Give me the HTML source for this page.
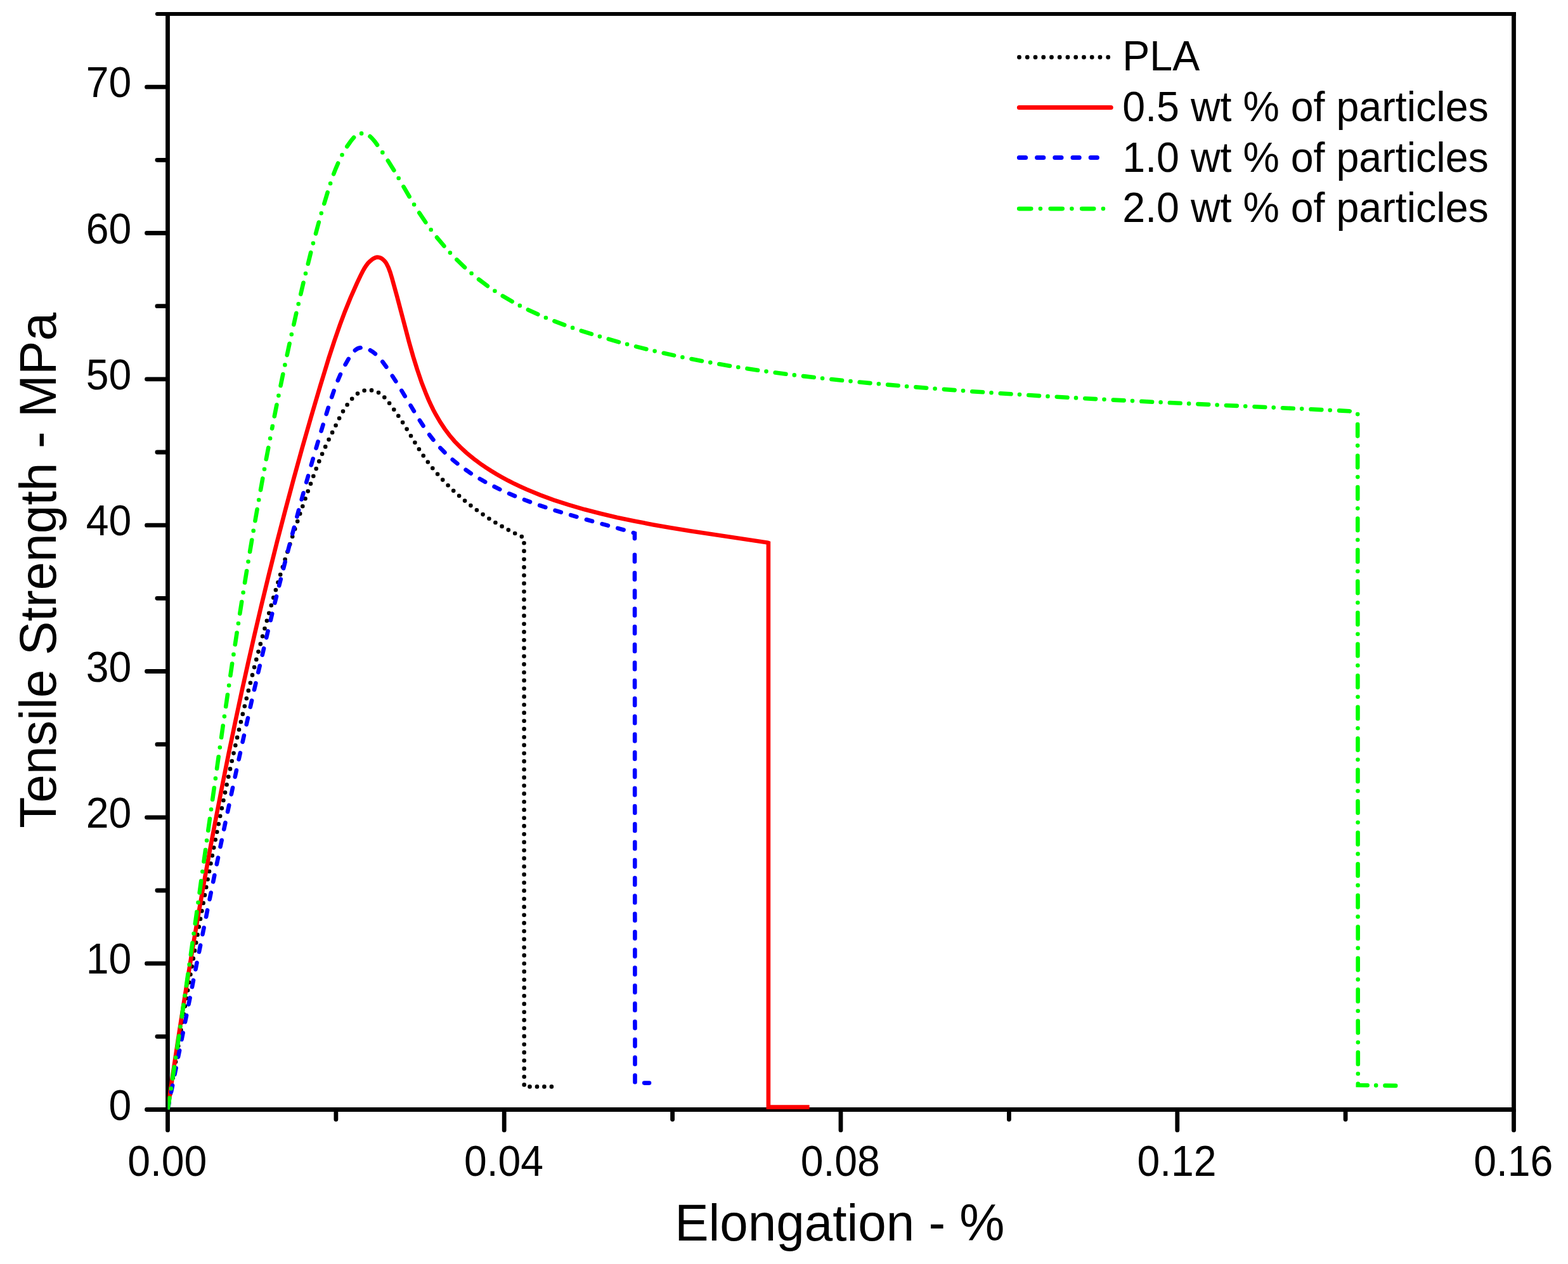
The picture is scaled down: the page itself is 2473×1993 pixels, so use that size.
<!DOCTYPE html>
<html lang="en"><head><meta charset="utf-8"><title>Tensile Strength vs Elongation</title>
<style>html,body{margin:0;padding:0;background:#fff}body{width:2473px;height:1993px;overflow:hidden}svg{display:block}text{font-family:"Liberation Sans",Arial,Helvetica,sans-serif;fill:#000}.tk{font-size:65px}.ti{font-size:80px}.c{fill:none;stroke-width:6.6;stroke-linecap:round;stroke-linejoin:miter}</style></head><body>
<svg width="2473" height="1993" viewBox="0 0 2473 1993" role="img" aria-label="Tensile strength versus elongation for PLA and particle-filled composites">
<defs><clipPath id="plot"><rect x="264.5" y="22" width="2127" height="1727.5"/></clipPath></defs>
<rect width="2473" height="1993" fill="#fff"/>
<g stroke="#000" stroke-width="6.8" fill="none">
<path d="M264.5,19V1749.5H2387.5V19"/>
<path stroke-width="6" d="M254.5,22H2390.9"/>
<path stroke-width="6" stroke-linecap="round" d="M247.9,22H259.5"/>
<path stroke-linecap="round" d="M263.5,1749.5H231.5M263.5,1634.3H247.9M263.5,1519.2H231.5M263.5,1404H247.9M263.5,1288.8H231.5M263.5,1173.7H247.9M263.5,1058.5H231.5M263.5,943.3H247.9M263.5,828.2H231.5M263.5,713H247.9M263.5,597.8H231.5M263.5,482.7H247.9M263.5,367.5H231.5M263.5,252.3H247.9M263.5,137.2H231.5M264.5,1750.5V1781.9M529.9,1750.5V1765.1M795.2,1750.5V1781.9M1060.6,1750.5V1765.1M1326,1750.5V1781.9M1591.4,1750.5V1765.1M1856.8,1750.5V1781.9M2122.1,1750.5V1765.1M2387.5,1750.5V1781.9"/>
</g>
<g clip-path="url(#plot)">
<path class="c" stroke="#000" d="M264.5,1749.5h.01M266.6,1737h.01M268.7,1724.4h.01M270.8,1711.9h.01M272.8,1699.4h.01M274.9,1686.8h.01M277,1674.3h.01M279.1,1661.7h.01M281.2,1649.2h.01M283.3,1636.7h.01M285.4,1624.1h.01M287.6,1611.6h.01M289.7,1599.1h.01M291.8,1586.6h.01M294,1574h.01M296.1,1561.5h.01M298.3,1549h.01M300.4,1536.5h.01M302.6,1523.9h.01M304.8,1511.4h.01M307,1498.9h.01M309.2,1486.4h.01M311.5,1473.9h.01M313.7,1461.4h.01M316,1448.9h.01M318.3,1436.4h.01M320.6,1423.9h.01M322.9,1411.4h.01M325.2,1398.9h.01M327.6,1386.5h.01M330,1374h.01M332.4,1361.5h.01M334.8,1349.1h.01M337.2,1336.6h.01M339.7,1324.1h.01M342.2,1311.7h.01M344.7,1299.3h.01M347.2,1286.8h.01M349.8,1274.4h.01M352.4,1262h.01M355,1249.6h.01M357.6,1237.2h.01M360.3,1224.8h.01M363,1212.4h.01M365.7,1200h.01M368.5,1187.6h.01M371.3,1175.2h.01M374.1,1162.9h.01M377,1150.5h.01M379.9,1138.2h.01M382.8,1125.9h.01M385.8,1113.5h.01M388.8,1101.2h.01M391.8,1088.9h.01M394.9,1076.7h.01M398,1064.4h.01M401.1,1052.1h.01M404.3,1039.9h.01M407.5,1027.6h.01M410.8,1015.4h.01M414.1,1003.2h.01M417.5,991h.01M420.9,978.8h.01M424.3,966.7h.01M427.8,954.5h.01M431.3,942.4h.01M434.9,930.3h.01M438.5,918.2h.01M442.2,906.1h.01M445.9,894h.01M449.6,882h.01M453.4,870h.01M457.3,858h.01M461.2,846h.01M465.2,834h.01M469.2,822.1h.01M473.2,810.1h.01M477.3,798.2h.01M481.5,786.3h.01M485.7,774.5h.01M490,762.7h.01M494.3,750.8h.01M498.7,739.1h.01M503.3,727.4h.01M508.1,715.8h.01M513.2,704.4h.01M518.6,693.1h.01M524.1,681.9h.01M529.6,670.7h.01M535.1,659.5h.01M541,648.6h.01M547.6,638.2h.01M555.2,628.7h.01M564,620.6h.01M574.6,615.8h.01M586,615.4h.01M597,619.1h.01M606.3,626.5h.01M614.1,635.8h.01M621.3,645.7h.01M628.3,655.8h.01M635.1,666.1h.01M641.6,676.6h.01M648,687.2h.01M654.4,697.8h.01M660.9,708.3h.01M667.7,718.5h.01M674.8,728.5h.01M682.3,738.2h.01M690.1,747.5h.01M698.2,756.6h.01M706.6,765.3h.01M715.2,773.7h.01M724.1,781.8h.01M733.1,789.6h.01M742.4,797.1h.01M751.9,804.3h.01M761.6,811.1h.01M771.4,817.7h.01M781.4,824h.01M791.6,829.9h.01M801.8,835.6h.01M812.2,841h.01M822.8,846.1h.01M826.5,856.2h.01M826.5,868.9h.01M826.5,881.7h.01M826.5,894.4h.01M826.5,907.2h.01M826.5,919.9h.01M826.5,932.7h.01M826.5,945.4h.01M826.5,958.2h.01M826.5,970.9h.01M826.5,983.7h.01M826.5,996.4h.01M826.5,1009.2h.01M826.5,1021.9h.01M826.5,1034.7h.01M826.5,1047.4h.01M826.5,1060.2h.01M826.6,1072.9h.01M826.6,1085.7h.01M826.6,1098.4h.01M826.6,1111.2h.01M826.6,1123.9h.01M826.6,1136.7h.01M826.6,1149.4h.01M826.6,1162.2h.01M826.6,1174.9h.01M826.6,1187.7h.01M826.6,1200.4h.01M826.6,1213.2h.01M826.6,1225.9h.01M826.6,1238.7h.01M826.6,1251.4h.01M826.6,1264.2h.01M826.6,1276.9h.01M826.6,1289.7h.01M826.6,1302.4h.01M826.6,1315.2h.01M826.6,1327.9h.01M826.6,1340.7h.01M826.6,1353.4h.01M826.6,1366.2h.01M826.6,1378.9h.01M826.6,1391.7h.01M826.6,1404.4h.01M826.6,1417.2h.01M826.6,1429.9h.01M826.6,1442.7h.01M826.6,1455.4h.01M826.6,1468.2h.01M826.6,1480.9h.01M826.6,1493.7h.01M826.7,1506.4h.01M826.7,1519.2h.01M826.7,1531.9h.01M826.7,1544.7h.01M826.7,1557.4h.01M826.7,1570.2h.01M826.7,1582.9h.01M826.7,1595.7h.01M826.7,1608.4h.01M826.7,1621.2h.01M826.7,1633.9h.01M826.7,1646.7h.01M826.7,1659.4h.01M826.7,1672.2h.01M826.7,1684.9h.01M826.7,1697.7h.01M826.7,1710.4h.01M835.5,1713.4h.01M847,1713.4h.01M858.4,1713.4h.01M869.9,1713.4h.01"/>
<path class="c" stroke="#f00" style="stroke-linecap:butt" d="M264.5,1749.5L272.5,1694.6L280.7,1640.3L289,1586.9L297.4,1534.6L305.9,1482.8L314.6,1432.1L323.5,1381.8L332.6,1332.1L341.9,1283L351.3,1234.9L360.9,1186.9L370.7,1139.9L380.6,1093.4L390.9,1047L401.3,1001.2L411.9,955.9L424.3,904.9L436.9,854.5L449.9,804.6L463.2,754.9L476.8,705.7L490.7,657.2L505.3,607.8L518.6,564.3L527.6,536.8L535.9,512.8L544.1,490.9L552.7,469.7L562.7,447.1L568.6,434.6L572.1,427.7L574.9,422.8L577.6,418.6L580.4,415L583.2,412.1L587.4,408.7L589.5,407.4L591.7,406.4L593.5,405.8L595.2,405.6L597,405.7L598.8,406.1L600.5,406.8L602.6,408L604.6,409.6L606.4,411.4L608.1,413.5L609.6,415.8L612.6,421.8L615.4,429.3L618.3,438.8L626.1,467.1L645.3,539.8L651.6,562L657.9,582.2L665,603.2L672.2,621.6L675.9,630.4L679.7,638.6L683.4,646.2L687.4,653.7L694.2,665.3L701.5,676.4L708.9,686.3L716.9,695.7L725.9,704.9L735.7,714L746.5,722.9L758.2,731.6L766.1,737L774.5,742.4L783.1,747.6L792.3,752.8L801.5,757.8L810.9,762.6L820.8,767.3L830.8,771.8L851.6,780.4L873.2,788.3L896.6,795.9L922,803.3L947.2,809.8L973.4,816L1001.3,821.8L1030.7,827.4L1058.3,832.2L1088.9,837.2L1210.9,855.6L1211.9,856L1211.9,1745.6L1276.6,1745.6"/>
<path class="c" stroke="#00f" d="M264.5,1749.5L266.6,1739.2M270,1721.9L272.1,1711.5M275.5,1694.2L277.6,1683.9M281,1666.6L283.1,1656.3M286.5,1639L288.6,1628.6M292,1611.3L294.1,1601M297.5,1583.7L299.6,1573.4M303,1556.1L305,1545.7M308.5,1528.4L310.5,1518.1M314,1500.8L316.1,1490.5M319.5,1473.2L321.6,1462.8M325.1,1445.6L327.1,1435.2M330.6,1417.9L332.7,1407.6M336.2,1390.3L338.3,1380M341.8,1362.7L344,1352.4M347.5,1335.1L349.7,1324.8M353.2,1307.6L355.4,1297.2M359,1280L361.2,1269.7M364.8,1252.4L367,1242.1M370.7,1224.9L372.9,1214.6M376.6,1197.4L378.9,1187.1M382.6,1169.9L384.9,1159.6M388.7,1142.4L391,1132.1M394.8,1114.9L397.1,1104.6M401,1087.5L403.4,1077.2M407.3,1060.1L409.7,1049.8M413.7,1032.7L416.1,1022.4M420.2,1005.3L422.6,995.1M426.8,978L429.2,967.7M433.4,950.6L436,940.4M440.2,923.4L442.8,913.2M447.1,896.1L449.7,885.9M454.1,868.9L456.7,858.7M461.2,841.7L463.9,831.6M468.4,814.6L471.1,804.4M475.7,787.5L478.5,777.3M483.2,760.4L486.1,750.3M490.8,733.4L493.7,723.3M498.6,706.5L501.6,696.4M506.6,679.6L509.6,669.6M514.7,652.8L517.8,642.8M523.2,626.1L526.6,616.2M532.8,599.9L536.9,590.3M544.6,574.8L549.7,565.9M559.9,552.4L562,550.8L564,549.6L566.2,548.8L568.6,548.3M583.9,552.2L587.8,554.7L591.9,557.9M603.3,570.3L609.3,578.5M618.8,592.7L624.3,601.3M633.4,615.9L638.7,624.7M647.6,639.4L652.9,648.2M661.9,662.8L667.5,671.4M677.2,685.4L683.4,693.5M694.4,706.2L701.4,713.4M713.7,724.7L721.4,731M734.6,740.8L742.8,746.4M756.7,755L765.2,759.8M779.6,767.3L788.3,771.6M803.1,778.3L812,782.1M827,788L836,791.4M851.2,796.8L860.3,799.9M875.6,804.8L884.8,807.7M900.2,812.2L909.4,814.9M924.9,819.3L934.1,821.8M949.6,826.1L958.9,828.6M974.3,832.9L983.6,835.5M998.9,840.1L1001,841L1001,849.1M1001,874.9L1001,885.5M1001,903.2L1001,913.8M1001.1,931.5L1001.1,942.1M1001.1,959.8L1001.1,970.4M1001.1,988.1L1001.1,998.7M1001.1,1016.4L1001.1,1027M1001.1,1044.7L1001.1,1055.3M1001.1,1073L1001.1,1083.6M1001.2,1101.3L1001.2,1111.9M1001.2,1129.6L1001.2,1140.2M1001.2,1157.9L1001.2,1168.5M1001.2,1186.2L1001.2,1196.8M1001.2,1214.5L1001.2,1225.1M1001.2,1242.8L1001.2,1253.4M1001.2,1271.1L1001.3,1281.7M1001.3,1299.4L1001.3,1310M1001.3,1327.7L1001.3,1338.3M1001.3,1356L1001.3,1366.6M1001.3,1384.3L1001.3,1394.9M1001.3,1412.6L1001.3,1423.2M1001.3,1440.9L1001.4,1451.5M1001.4,1469.2L1001.4,1479.8M1001.4,1497.5L1001.4,1508.1M1001.4,1525.8L1001.4,1536.4M1001.4,1554.1L1001.4,1564.7M1001.4,1582.4L1001.4,1593M1001.4,1610.7L1001.5,1621.3M1001.5,1639L1001.5,1649.6M1001.5,1667.3L1001.5,1677.9M1001.5,1695.6L1001.5,1706.2M1016.2,1707.6L1024,1707.6"/>
<path class="c" stroke="#0f0" d="M264.5,1749.5L267.4,1731.2M269.7,1716.4h.01M272.1,1700.7L274.9,1682.4M277.1,1667.6h.01M279.5,1651.9L282.3,1633.5M284.4,1618.7h.01M286.8,1603L289.4,1584.7M291.6,1569.8h.01M293.9,1554.1L296.5,1535.8M298.6,1520.9h.01M300.9,1505.2L303.5,1486.9M305.6,1472h.01M307.8,1456.3L310.4,1437.9M312.5,1423.1h.01M314.7,1407.4L317.2,1389M319.3,1374.2h.01M321.5,1358.4L324.1,1340.1M326.1,1325.2h.01M328.3,1309.5L330.9,1291.1M333,1276.3h.01M335.2,1260.6L337.8,1242.2M339.9,1227.4h.01M342.1,1211.7L344.7,1193.3M346.8,1178.5h.01M349.1,1162.7L351.7,1144.4M353.9,1129.6h.01M356.2,1113.9L358.9,1095.5M361.1,1080.7h.01M363.4,1065L366.1,1046.6M368.4,1031.9h.01M370.8,1016.2L373.6,997.8M375.9,983h.01M378.3,967.4L381.2,949M383.6,934.3h.01M386.1,918.6L389.1,900.3M391.5,885.5h.01M394.1,869.9L397.2,851.6M399.7,836.9h.01M402.4,821.2L405.6,803M408.2,788.2h.01M411,772.6L414.3,754.4M417,739.7h.01M419.8,724.1L423.3,705.9M426.1,691.2h.01M429.1,675.6L429.4,673.9M429.8,672h.01M432.8,656.5L436.4,638.3M439.4,623.7h.01M442.6,608.1L446.3,590M449.4,575.4h.01M452.7,559.9L456.6,541.8M459.8,527.3h.01M463.3,511.8L467.3,493.8M470.7,479.2h.01M474.3,463.8L478.5,445.8M482,431.3h.01M485.8,416L490.2,398.1M493.9,383.6h.01M498,368.3L502.8,350.5M506.8,336.2h.01M511.3,321.1L516.6,303.5M521.1,289.3h.01M526.2,274.4L529.5,265.9L533.1,257.5M539.5,244.3h.01M547.3,231L553.3,222.5L555.6,219.6L558.1,216.8M570.1,210.4h.01M583.5,215.1L586,217.3L588.8,220.4L591.5,223.6L595,228.5M603.3,240.4h.01M611.8,253.2L621.3,268.5M628.7,281h.01M636.5,294.4L645.6,310M653.1,322.5h.01M661.3,335.6L671.3,350.5M679.7,362.2h.01M689,374.3L700.4,387.9M709.9,398.6h.01M720.4,409.4L733,421.6M743.6,431h.01M755.1,440.5L768.9,450.9M780.4,458.8h.01M792.8,466.7L807.7,475.3M819.8,481.9h.01M832.9,488.4L848.3,495.5M860.9,501h.01M874.4,506.4L890.2,512.4M903.1,516.9h.01M916.8,521.6L932.9,526.7M945.9,530.6h.01M959.8,534.7L976,539.3M989.1,542.8h.01M1003.1,546.4L1019.4,550.5M1032.6,553.6h.01M1046.7,556.8L1063.1,560.4M1076.4,563.2h.01M1090.5,566L1107,569.2M1120.3,571.6h.01M1134.4,574.1L1151,576.9M1164.3,579h.01M1178.5,581.2L1195.1,583.7M1208.5,585.6h.01M1222.7,587.5L1239.4,589.7M1252.8,591.4h.01M1267,593.1L1283.7,595M1297.1,596.5h.01M1311.4,598L1328,599.8M1341.5,601.1h.01M1355.7,602.5L1372.4,604.1M1385.9,605.3h.01M1400.2,606.6L1400.2,606.6M1400.2,606.6L1416.6,608M1430.1,609.2h.01M1444.4,610.4L1461.1,611.7M1474.6,612.8h.01M1488.9,613.9L1505.6,615.1M1519,616.1h.01M1533.3,617.2L1550,618.3M1563.5,619.2h.01M1577.8,620.2L1594.5,621.3M1608,622.1h.01M1622.3,623L1639,624.1M1652.5,624.9h.01M1666.8,625.7L1683.5,626.7M1697,627.4h.01M1711.3,628.2L1728,629.1M1741.5,629.8h.01M1755.8,630.6L1772.6,631.4M1786,632.1h.01M1800.4,632.8L1817.1,633.7M1830.6,634.3h.01M1844.9,635L1861.6,635.8M1875.1,636.4h.01M1889.4,637.1L1906.1,637.9M1919.6,638.5h.01M1933.9,639.2L1950.7,639.9M1964.2,640.5h.01M1978.5,641.2L1995.2,642M2008.7,642.6h.01M2023,643.2L2039.7,644M2053.2,644.6h.01M2067.5,645.3L2084.3,646.1M2097.7,646.7h.01M2112.1,647.4L2128,648.2L2128.7,648.4M2141.2,653.1h.01M2141.2,669L2141.2,687.6M2141.2,702.6h.01M2141.2,718.5L2141.2,737.1M2141.3,752.1h.01M2141.3,768L2141.3,786.6M2141.3,801.6h.01M2141.3,817.6L2141.3,836.2M2141.3,851.2h.01M2141.3,867.1L2141.3,885.7M2141.3,900.7h.01M2141.3,916.6L2141.4,935.2M2141.4,950.2h.01M2141.4,966.1L2141.4,984.7M2141.4,999.7h.01M2141.4,1015.6L2141.4,1034.2M2141.4,1049.2h.01M2141.4,1065.2L2141.4,1083.8M2141.5,1098.8h.01M2141.5,1114.7L2141.5,1133.3M2141.5,1148.3h.01M2141.5,1164.2L2141.5,1182.8M2141.5,1197.8h.01M2141.5,1213.7L2141.5,1232.3M2141.5,1247.3h.01M2141.5,1263.2L2141.6,1281.8M2141.6,1296.8h.01M2141.6,1312.8L2141.6,1331.4M2141.6,1346.4h.01M2141.6,1362.3L2141.6,1380.9M2141.6,1395.9h.01M2141.6,1411.8L2141.6,1430.4M2141.6,1445.4h.01M2141.7,1461.3L2141.7,1479.9M2141.7,1494.9h.01M2141.7,1510.8L2141.7,1529.4M2141.7,1544.4h.01M2141.7,1560.4L2141.7,1579M2141.7,1594h.01M2141.7,1609.9L2141.8,1628.5M2141.8,1643.5h.01M2141.8,1659.4L2141.8,1678M2141.8,1693h.01M2141.8,1708.9L2141.8,1711L2156.7,1711.2M2170.2,1711.4h.01M2184.5,1711.6L2201.2,1711.9"/>
</g>
<g class="tk" text-anchor="end">
<text transform="translate(207.3,1765.5) scale(0.99,1.04)">0</text>
<text transform="translate(207.3,1535.2) scale(0.99,1.04)">10</text>
<text transform="translate(207.3,1304.8) scale(0.99,1.04)">20</text>
<text transform="translate(207.3,1074.5) scale(0.99,1.04)">30</text>
<text transform="translate(207.3,844.2) scale(0.99,1.04)">40</text>
<text transform="translate(207.3,613.8) scale(0.99,1.04)">50</text>
<text transform="translate(207.3,383.5) scale(0.99,1.04)">60</text>
<text transform="translate(207.3,153.2) scale(0.99,1.04)">70</text>
</g>
<g class="tk" text-anchor="middle">
<text transform="translate(263.8,1854.3) scale(0.99,1.04)">0.00</text>
<text transform="translate(794.5,1854.3) scale(0.99,1.04)">0.04</text>
<text transform="translate(1325.3,1854.3) scale(0.99,1.04)">0.08</text>
<text transform="translate(1856,1854.3) scale(0.99,1.04)">0.12</text>
<text transform="translate(2386.8,1854.3) scale(0.99,1.04)">0.16</text>
</g>
<text class="ti" text-anchor="middle" transform="translate(1324.3,1955.7) scale(1,1.03)">Elongation - %</text>
<text class="ti" text-anchor="middle" transform="translate(88.2,899.3) rotate(-90) scale(1.005,1.03)">Tensile Strength - MPa</text>
<g fill="none" stroke-linecap="round">
<path stroke="#000" stroke-width="6.8" stroke-dasharray="0.01 12.735" d="M1607.5,90.2H1748"/>
<path stroke="#f00" stroke-width="7" d="M1607.4,169.6H1752.2"/>
<path stroke="#00f" stroke-width="7" stroke-dasharray="10.2 18" d="M1607.4,248.5H1731"/>
<path stroke="#0f0" stroke-width="6.6" stroke-dasharray="19 14.7 0.01 15.8" d="M1607.2,329.1H1742"/>
</g>
<g class="tk">
<text transform="translate(1770.3,110.7) scale(0.993,1.03)">PLA</text>
<text transform="translate(1770.3,190.5) scale(0.993,1.03)">0.5 wt % of particles</text>
<text transform="translate(1770.3,270.5) scale(0.993,1.03)">1.0 wt % of particles</text>
<text transform="translate(1770.3,350.2) scale(0.993,1.03)">2.0 wt % of particles</text>
</g>
</svg></body></html>
